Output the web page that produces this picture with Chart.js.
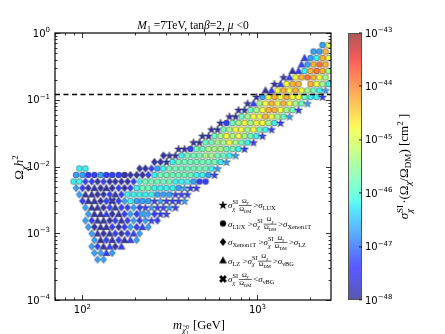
<!DOCTYPE html>
<html>
<head>
<meta charset="utf-8">
<script src="https://cdn.jsdelivr.net/npm/chart.js@4.4.1/dist/chart.umd.min.js"></script>
<style>
  html, body { margin: 0; padding: 0; background: #fff; }
  #chart { display: block; }
</style>
</head>
<body>
<canvas id="chart" width="445" height="334"></canvas>
<script>
// scan points, one row per relic density level (top to bottom)
const rowOmega = [0.66, 0.528, 0.422, 0.338, 0.270, 0.216, 0.172, 0.138, 0.110, 0.0879, 0.0702, 0.0561, 0.0449, 0.0358,
  0.0286, 0.0229, 0.0183, 0.0146, 0.0117, 0.00933, 0.00746, 0.00596, 0.00476, 0.00381, 0.00304, 0.00243, 0.00194,
  0.00155, 0.00124, 0.000991, 0.000792, 0.000633, 0.000506, 0.000404]

// neutralino mass [GeV] of each point in the row
const rowMass = [
  [2353, 2546],
  [2090, 2262, 2448],
  [1857, 2009, 2175, 2353, 2546],
  [1785, 1931, 2090, 2262, 2448],
  [1585, 1716, 1857, 2009, 2175, 2353, 2546],
  [1409, 1524, 1649, 1785, 1931, 2090, 2262, 2448],
  [1251, 1354, 1465, 1585, 1716, 2009, 2175, 2353, 2546],
  [1111, 1203, 1302, 1409, 1524, 1649, 1785, 1931, 2090, 2262, 2448],
  [987, 1068, 1156, 1251, 1354, 1465, 1585, 1716, 1857, 2009, 2175, 2353],
  [877, 949, 1027, 1111, 1203, 1302, 1409, 1524, 1649, 1785, 1931],
  [779, 843, 912, 987, 1068, 1156, 1251, 1354, 1465, 1585, 1716],
  [692, 749, 810, 877, 949, 1027, 1111, 1203, 1302, 1409, 1524],
  [615, 665, 720, 779, 843, 912, 987, 1068, 1156, 1251, 1354],
  [546, 591, 639, 692, 749, 810, 877, 949, 1027, 1111, 1203],
  [485, 525, 568, 615, 665, 720, 779, 843, 912, 987, 1068],
  [431, 466, 505, 546, 591, 639, 692, 749, 810, 877, 949],
  [354, 383, 414, 448, 485, 525, 568, 615, 665, 720, 779, 843],
  [290, 314, 340, 368, 398, 431, 466, 505, 546, 591, 639, 692, 749],
  [258, 279, 302, 327, 354, 383, 414, 448, 485, 525, 568, 615, 665],
  [96, 104, 212, 229, 248, 268, 290, 314, 340, 368, 398, 431, 466, 505, 546, 591],
  [92, 100, 108, 117, 127, 137, 148, 161, 174, 188, 204, 220, 238, 258, 279, 302, 327, 354, 383, 414, 448, 485, 525, 568],
  [89, 96, 104, 113, 122, 132, 143, 154, 167, 181, 196, 212, 229, 248, 268, 290, 314, 340, 368, 398, 431, 466, 505],
  [92, 100, 108, 117, 127, 137, 148, 161, 174, 188, 204, 220, 238, 258, 279, 302, 327, 354, 383, 414, 448],
  [96, 104, 113, 122, 132, 143, 154, 167, 181, 196, 212, 229, 248, 268, 290, 314, 340, 368, 398],
  [100, 108, 117, 127, 137, 148, 161, 174, 188, 204, 220, 238, 258, 279, 302, 327, 354, 383],
  [104, 113, 122, 132, 143, 154, 167, 181, 196, 212, 229, 248, 268, 290, 314, 340],
  [108, 117, 127, 137, 148, 161, 174, 188, 204, 220, 238, 258, 279, 302],
  [104, 113, 122, 132, 143, 154, 167, 181, 196, 212, 229, 248, 268],
  [108, 117, 127, 137, 148, 161, 174, 188, 204, 220, 238],
  [113, 122, 132, 143, 154, 167, 181, 196, 212],
  [117, 127, 137, 148, 161, 174, 188, 204],
  [113, 122, 132, 143, 154, 167],
  [117, 127, 137, 148],
  [122, 132]
]

// log10 of sigma_SI * Omega/Omega_DM [cm^2] (colour)
const rowLogSigma = [
  [-46.7, -44.8],
  [-46.7, -46.7, -44.3],
  [-47.3, -46.7, -46.2, -44.3, -44.8],
  [-47.3, -46.7, -44.3, -43.9, -44.3],
  [-47.9, -47.3, -46.2, -44.3, -43.9, -44.3, -45.4],
  [-47.9, -47.3, -44.8, -44.3, -43.9, -44.3, -44.8, -45.4],
  [-47.9, -47.3, -44.8, -44.3, -44.3, -44.3, -44.8, -45.4, -46.2],
  [-47.9, -47.3, -44.8, -44.3, -44.8, -44.3, -44.8, -45.4, -45.8, -46.2, -46.7],
  [-47.9, -46.7, -44.8, -44.3, -44.8, -44.3, -44.8, -44.8, -45.8, -46.2, -46.2, -47.3],
  [-47.9, -47.3, -45.4, -44.8, -44.3, -44.8, -44.3, -44.8, -45.4, -45.8, -46.7],
  [-47.9, -47.9, -45.8, -45.4, -44.8, -44.3, -44.3, -44.8, -45.4, -45.8, -47.3],
  [-47.9, -47.9, -45.8, -45.4, -44.8, -44.8, -44.3, -44.8, -45.4, -45.8, -46.7],
  [-47.9, -47.3, -45.8, -45.4, -44.8, -45.4, -44.8, -44.8, -45.4, -46.2, -47.3],
  [-47.9, -47.9, -45.8, -45.4, -44.8, -44.8, -45.4, -44.8, -45.8, -46.2, -47.3],
  [-47.9, -47.9, -45.8, -45.4, -44.8, -45.4, -44.8, -45.4, -45.8, -46.2, -47.3],
  [-47.9, -47.9, -45.8, -45.8, -45.4, -45.4, -44.8, -45.4, -45.8, -46.2, -47.3],
  [-47.9, -47.9, -47.3, -45.8, -45.8, -45.4, -45.4, -45.4, -45.8, -45.8, -46.2, -47.3],
  [-47.9, -47.9, -47.9, -46.2, -45.8, -45.8, -45.8, -45.4, -45.4, -45.8, -45.8, -46.2, -46.7],
  [-47.9, -47.9, -47.9, -46.2, -45.8, -45.8, -45.8, -45.8, -45.8, -45.8, -45.8, -46.2, -46.7],
  [-46.2, -46.2, -47.9, -47.9, -47.3, -46.7, -46.2, -45.8, -45.8, -45.8, -45.8, -45.8, -45.8, -45.8, -46.2, -46.7],
  [-46.7, -46.7, -47.3, -47.3, -46.7, -47.3, -47.3, -47.3, -47.9, -47.9, -47.9, -47.9, -47.3, -46.2, -45.8, -45.8,
    -45.8, -45.8, -45.8, -45.8, -46.2, -46.2, -46.7, -47.3],
  [-46.2, -46.2, -47.3, -47.3, -47.9, -47.3, -47.9, -47.9, -47.9, -47.9, -47.3, -46.2, -45.8, -45.8, -45.8, -45.8,
    -45.8, -46.2, -46.2, -46.2, -46.7, -47.3, -47.3],
  [-46.7, -47.3, -47.9, -47.9, -47.9, -47.9, -47.9, -47.3, -47.9, -47.3, -46.2, -45.8, -45.8, -46.2, -46.2, -46.2,
    -46.2, -46.7, -46.7, -47.3, -47.3],
  [-46.7, -47.9, -47.9, -47.9, -47.9, -47.3, -47.9, -47.3, -46.2, -46.2, -46.2, -46.2, -46.2, -46.7, -46.7, -46.7,
    -47.3, -47.3, -47.3],
  [-47.3, -47.9, -47.9, -47.9, -47.3, -47.9, -47.3, -46.7, -46.2, -46.7, -46.7, -46.7, -47.3, -46.7, -47.3, -47.3,
    -47.3, -46.7],
  [-46.7, -47.9, -47.9, -47.9, -47.3, -47.9, -47.3, -47.3, -46.7, -47.3, -47.3, -46.7, -47.3, -47.3, -46.7, -47.3],
  [-46.7, -47.9, -47.9, -47.3, -47.9, -47.9, -47.3, -46.7, -47.3, -46.7, -46.7, -47.3, -47.3, -47.3],
  [-46.7, -47.3, -47.9, -47.9, -47.9, -47.3, -47.9, -47.3, -46.7, -47.3, -46.7, -47.3, -47.3],
  [-46.7, -47.9, -47.9, -47.9, -47.3, -47.9, -47.3, -46.7, -47.3, -47.3, -46.7],
  [-46.7, -47.9, -47.9, -47.9, -47.3, -47.9, -47.3, -47.3, -46.7],
  [-46.7, -47.9, -47.3, -47.9, -47.3, -47.9, -47.3, -46.7],
  [-46.7, -47.3, -47.9, -47.3, -47.9, -47.3],
  [-46.7, -46.7, -47.3, -46.7],
  [-46.7, -46.7]
]

// detection class: s > LUX, o LUX..Xenon1T, d Xenon1T..LZ, t LZ..nuBG, x < nuBG
const rowKind = [
  "oo", "ooo", "toooo", "toooo", "ttooooo", "stoooooo", "stooooooo", "ttoooooooos", "soooooooooos",
  "stoooooooos", "ssoooooooos", "ssoooooooos", "sooooooooos", "ssoooooooos", "ssoooooooos", "ssoooooooos",
  "ssooooooooos", "dssooooooooos", "ddsooooooooos", "oodddoooooooooos",
  "oooooooooddddooooooooooss", "ooddddddddddoooooooooooss", "dddtdtddddoooooooosss", "dttdddtdoooooooossss",
  "dttddxddoooossssss", "dttddtddddssssss", "dtttdtdddxddss", "ddttddtddddsd", "ddttdddddtd", "dtdtdddtd",
  "dtdtdttd", "ddttdt", "ddtd", "dd"
]

const omegaPlanck = 0.12
const massRange = [69.7, 2630]
const omegaRange = [1e-4, 1]
const sigmaRange = [-48, -43]
const xTickExp = [2, 3]
const yTickExp = [0, -1, -2, -3, -4]
const barTickExp = [-43, -44, -45, -46, -47, -48]
const legendKinds = ['s', 'o', 'd', 't', 'x']

const SERIF = '"Liberation Serif", "DejaVu Serif", serif'
const SANS = '"DejaVu Sans", sans-serif'

// jet colour map, blended with white
const jetR = [[0, 0], [0.35, 0], [0.66, 1], [0.89, 1], [1, 0.5]]
const jetG = [[0, 0], [0.125, 0], [0.375, 1], [0.64, 1], [0.91, 0], [1, 0]]
const jetB = [[0, 0.5], [0.11, 1], [0.34, 1], [0.65, 0], [1, 0]]
function interp(pts, t) {
  for (let i = 1; i < pts.length; i++) {
    if (t <= pts[i][0]) {
      const [t0, v0] = pts[i - 1], [t1, v1] = pts[i]
      return v0 + (v1 - v0) * (t - t0) / (t1 - t0)
    }
  }
  return pts[pts.length - 1][1]
}
function jetColor(t, alpha) {
  t = Math.min(1, Math.max(0, t))
  const c = [jetR, jetG, jetB].map(p => Math.round(255 * (interp(p, t) * alpha + 1 - alpha)))
  return 'rgb(' + c.join(',') + ')'
}

function markerPath(ctx, kind, c) {
  ctx.beginPath()
  if (kind === 'o') {
    ctx.arc(c, c, 3.0, 0, Math.PI * 2)
  } else if (kind === 'd') {
    ctx.moveTo(c, c - 3.7); ctx.lineTo(c + 3.1, c); ctx.lineTo(c, c + 3.7); ctx.lineTo(c - 3.1, c)
  } else if (kind === 't') {
    ctx.moveTo(c, c - 3.8); ctx.lineTo(c + 3.6, c + 2.7); ctx.lineTo(c - 3.6, c + 2.7)
  } else if (kind === 's') {
    for (let i = 0; i < 10; i++) {
      const r = i % 2 ? 1.7 : 4.2, a = -Math.PI / 2 + i * Math.PI / 5
      ctx.lineTo(c + r * Math.cos(a), c + 0.3 + r * Math.sin(a))
    }
  } else {
    const w = 1.3, L = 3.9
    const pts = [[-w, -L], [w, -L], [w, -w], [L, -w], [L, w], [w, w], [w, L], [-w, L], [-w, w], [-L, w], [-L, -w], [-w, -w]]
    const k = Math.SQRT1_2
    pts.forEach(([px, py]) => ctx.lineTo(c + (px - py) * k, c + (px + py) * k))
  }
  ctx.closePath()
}

const markerCache = {}
function markerImage(kind, logSigma) {
  const fill = logSigma == null ? '#000' : jetColor((logSigma - sigmaRange[0]) / (sigmaRange[1] - sigmaRange[0]), 0.8)
  const key = kind + fill
  if (!markerCache[key]) {
    const cv = document.createElement('canvas')
    cv.width = 12; cv.height = 12
    const g = cv.getContext('2d')
    markerPath(g, kind, 6)
    g.fillStyle = fill
    g.fill()
    g.strokeStyle = 'rgba(30,30,30,0.7)'
    g.lineWidth = 0.6
    g.stroke()
    markerCache[key] = cv
  }
  return markerCache[key]
}

// tiny layout for math-like labels: sub/superscripts, stacked scripts, fractions
function rich(ctx, parts, x, y, size, draw, family) {
  family = family || SERIF
  let cx = x, last = null
  for (const p of parts) {
    if (p.frac) {
      const fs = size * 0.72
      const wn = rich(ctx, p.frac[0], 0, 0, fs, false, family)
      const wd = rich(ctx, p.frac[1], 0, 0, fs, false, family)
      const w = Math.max(wn, wd) + 1
      if (draw) {
        rich(ctx, p.frac[0], cx + (w - wn) / 2, y - size * 0.6, fs, true, family)
        rich(ctx, p.frac[1], cx + (w - wd) / 2, y + size * 0.32, fs, true, family)
        ctx.fillRect(cx, y - size * 0.3, w, 0.6)
      }
      cx += w + size * 0.15
    } else if (p.ss) {
      const base = y + (p.d || 0) * size, s2 = size * (p.k || 1)
      const wu = rich(ctx, p.ss[0], 0, 0, s2 * 0.7, false, family)
      const wl = rich(ctx, p.ss[1], 0, 0, s2 * 0.7, false, family)
      if (draw) {
        rich(ctx, p.ss[0], cx, base - s2 * 0.42, s2 * 0.7, true, family)
        rich(ctx, p.ss[1], cx, base + s2 * 0.28, s2 * 0.7, true, family)
      }
      cx += Math.max(wu, wl) + size * 0.08
    } else if (p.acc) {
      if (draw && last) {
        ctx.font = last.fs * 0.8 + 'px ' + family
        const w = ctx.measureText(p.acc).width
        ctx.fillText(p.acc, last.x + (last.w - w) / 2 + last.fs * 0.08, last.y - last.fs * 0.5)
      }
    } else {
      const fs = size * (p.s || 1), by = y + (p.d || 0) * size
      ctx.font = (p.i ? 'italic ' : '') + fs + 'px ' + family
      const w = ctx.measureText(p.t).width
      if (draw) ctx.fillText(p.t, cx, by)
      last = { x: cx, w: w, y: by, fs: fs }
      cx += w
    }
  }
  return cx - x
}

function richCentered(ctx, parts, cx, y, size, family) {
  const w = rich(ctx, parts, 0, 0, size, false, family)
  rich(ctx, parts, cx - w / 2, y, size, true, family)
}

const sub = t => ({ t: t, s: 0.7, d: 0.25 })
const sig = name => [{ t: 'σ', i: 1 }, sub(name)]
const sigSI = [{ t: 'σ', i: 1 }, { ss: [[{ t: 'SI' }], [{ t: 'χ', i: 1 }]] }]
const ratio = { frac: [[{ t: 'Ω' }, { t: 'χ', i: 1, s: 0.7, d: 0.25 }], [{ t: 'Ω' }, sub('DM')]] }
const legendLabels = [
  [...sigSI, ratio, { t: '>' }, ...sig('LUX')],
  [...sig('LUX'), { t: ' >' }, ...sigSI, ratio, { t: '>' }, ...sig('Xenon1T')],
  [...sig('Xenon1T'), { t: ' >' }, ...sigSI, ratio, { t: '>' }, ...sig('LZ')],
  [...sig('LZ'), { t: ' >' }, ...sigSI, ratio, { t: '>' }, ...sig('νBG')],
  [...sigSI, ratio, { t: '<' }, ...sig('νBG')]
]
const titleParts = [{ t: 'M', i: 1 }, sub('1'), { t: ' =7TeV, tan' }, { t: 'β', i: 1 }, { t: '=2, ' }, { t: 'μ', i: 1 }, { t: ' <0' }]
const xLabelParts = [{ t: 'm', i: 1 }, { t: 'χ', i: 1, s: 0.7, d: 0.28 }, { acc: '~' },
  { ss: [[{ t: '0' }], [{ t: '1' }]], k: 0.7, d: 0.3 }, { t: ' [GeV]' }]
const yLabelParts = [{ t: 'Ω' }, { t: 'χ', i: 1, s: 0.7, d: 0.28 }, { t: 'h', i: 1 }, { t: '2', s: 0.7, d: -0.42 }]
const barLabelParts = [{ t: 'σ', i: 1 }, { ss: [[{ t: 'SI' }], [{ t: 'χ', i: 1 }]] }, { t: '·(' }, { t: 'Ω' },
  { t: 'χ', i: 1, s: 0.7, d: 0.25 }, { t: '/' }, { t: 'Ω' }, sub('DM'), { t: ') [cm' }, { t: '2', s: 0.7, d: -0.42 }, { t: ' ]' }]
const pow10 = e => [{ t: '10' }, { t: String(e).replace('-', '−'), s: 0.7, d: -0.45 }]

const points = []
rowOmega.forEach((om, i) => {
  rowMass[i].forEach((m, j) => points.push({ x: m, y: om, s: rowLogSigma[i][j], k: rowKind[i][j] }))
})
const planckLine = [{ x: massRange[0], y: omegaPlanck }, { x: massRange[1], y: omegaPlanck }]

const decor = {
  id: 'decor',
  afterDraw(chart) {
    const { ctx, chartArea: a, scales: { x, y } } = chart
    ctx.save()
    ctx.fillStyle = '#000'
    ctx.strokeStyle = '#000'

    // ticks on all four sides, pointing in
    ctx.lineWidth = 0.8
    ctx.beginPath()
    for (let e = 1; e <= 3; e++) {
      for (let k = 1; k <= 9; k++) {
        const v = k * Math.pow(10, e)
        if (v < x.min || v > x.max) continue
        const px = Math.round(x.getPixelForValue(v)) + 0.5, len = k === 1 ? 5 : 2.5
        ctx.moveTo(px, a.bottom); ctx.lineTo(px, a.bottom - len)
        ctx.moveTo(px, a.top); ctx.lineTo(px, a.top + len)
      }
    }
    for (let e = -4; e <= 0; e++) {
      for (let k = 1; k <= 9; k++) {
        const v = k * Math.pow(10, e)
        if (v < y.min || v > y.max * 1.0001) continue
        const py = Math.round(y.getPixelForValue(v)) + 0.5, len = k === 1 ? 5 : 2.5
        ctx.moveTo(a.left, py); ctx.lineTo(a.left + len, py)
        ctx.moveTo(a.right, py); ctx.lineTo(a.right - len, py)
      }
    }
    ctx.stroke()
    ctx.lineWidth = 1.2
    ctx.strokeRect(a.left, a.top, a.right - a.left, a.bottom - a.top)

    // tick labels
    yTickExp.forEach(e => {
      const py = y.getPixelForValue(Math.pow(10, e))
      const w = rich(ctx, pow10(e), 0, 0, 10, false, SANS)
      rich(ctx, pow10(e), a.left - 5 - w, py + 3.5, 10, true, SANS)
    })
    xTickExp.forEach(e => {
      richCentered(ctx, pow10(e), x.getPixelForValue(Math.pow(10, e)), a.bottom + 13, 10, SANS)
    })

    // title and axis labels
    richCentered(ctx, titleParts, (a.left + a.right) / 2, a.top - 4, 11.5)
    richCentered(ctx, xLabelParts, (a.left + a.right) / 2 + 6, a.bottom + 29, 12.5)
    ctx.save()
    ctx.translate(23, (a.top + a.bottom) / 2 + 1)
    ctx.rotate(-Math.PI / 2)
    richCentered(ctx, yLabelParts, 0, 0, 13)
    ctx.restore()

    // legend
    legendKinds.forEach((k, i) => {
      const ly = a.top + 172 + i * 18.5
      const img = markerImage(k, null)
      ctx.drawImage(img, a.left + 168 - img.width / 2, ly - img.height / 2)
      rich(ctx, legendLabels[i], a.left + 173, ly + 3, 9, true)
    })

    // colour bar
    const cb = { left: 348, right: 362, top: a.top, bottom: a.bottom }
    const grad = ctx.createLinearGradient(0, cb.bottom, 0, cb.top)
    for (let i = 0; i <= 40; i++) grad.addColorStop(i / 40, jetColor(i / 40, 0.65))
    ctx.fillStyle = grad
    ctx.fillRect(cb.left, cb.top, cb.right - cb.left, cb.bottom - cb.top)
    ctx.strokeStyle = '#555'
    ctx.lineWidth = 1
    ctx.strokeRect(cb.left + 0.5, cb.top + 0.5, cb.right - cb.left - 1, cb.bottom - cb.top - 1)
    ctx.fillStyle = '#000'
    barTickExp.forEach(e => {
      const py = cb.top + (sigmaRange[1] - e) / (sigmaRange[1] - sigmaRange[0]) * (cb.bottom - cb.top)
      ctx.fillRect(cb.right - 3, Math.round(py) - 0.5, 3, 0.8)
      rich(ctx, pow10(e), cb.right + 3, py + 3.5, 10, true, SANS)
    })
    ctx.save()
    ctx.translate(408, (cb.top + cb.bottom) / 2)
    ctx.rotate(-Math.PI / 2)
    richCentered(ctx, barLabelParts, 0, 0, 13)
    ctx.restore()

    ctx.restore()
  }
}

new Chart(document.getElementById('chart'), {
  type: 'scatter',
  data: {
    datasets: [
      { type: 'line', data: planckLine, borderColor: '#000', borderWidth: 1.6, borderDash: [5, 3.5],
        pointRadius: 0, fill: false, order: 0 },
      { data: points, order: 1, pointRadius: 4,
        pointStyle: c => (c.raw ? markerImage(c.raw.k, c.raw.s) : 'circle') }
    ]
  },
  options: {
    responsive: false,
    animation: false,
    devicePixelRatio: 1,
    events: [],
    layout: { padding: { left: 55, top: 33, right: 114, bottom: 34 } },
    scales: {
      x: { type: 'logarithmic', min: massRange[0], max: massRange[1], display: false },
      y: { type: 'logarithmic', min: omegaRange[0], max: omegaRange[1], display: false }
    },
    plugins: { legend: { display: false }, tooltip: { enabled: false } }
  },
  plugins: [decor]
})
</script>
</body>
</html>
